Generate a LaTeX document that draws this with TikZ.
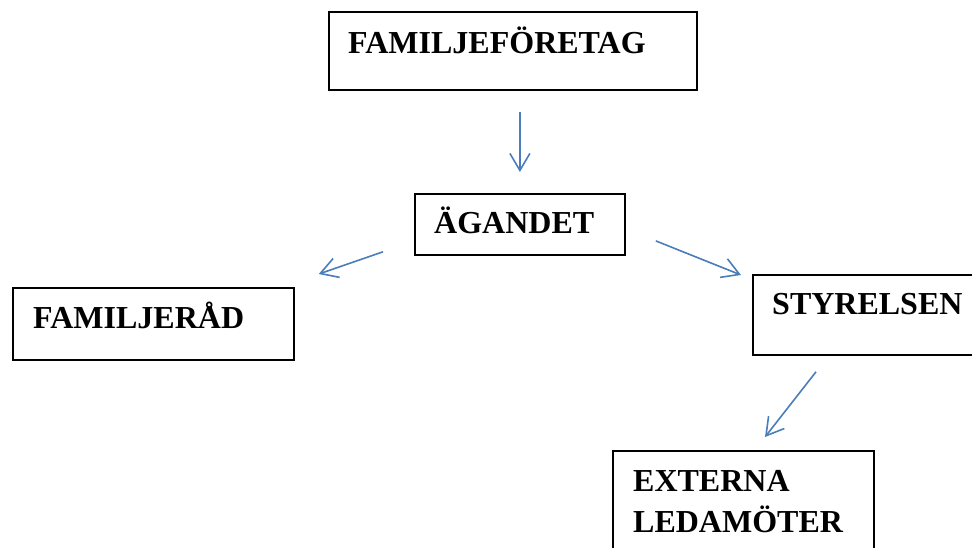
\documentclass[tikz,border=0pt]{standalone}
\usepackage{fontspec}
\setmainfont{Liberation Serif}
\usetikzlibrary{arrows.meta,calc}
\definecolor{arrcol}{RGB}{74,126,187}
\tikzset{
  box/.style={draw=black,line width=1.8pt,inner sep=0pt,anchor=north west},
  lbl/.style={inner sep=0pt,anchor=base west,font=\bfseries\fontsize{32}{41}\selectfont},
  arr/.style={draw=arrcol,line width=1.6pt,-{Straight Barb[length=17pt,width=20pt,line width=1.6pt]}}
}

\begin{document}
\begin{tikzpicture}[x=1pt,y=-1pt]
\useasboundingbox (0,0) rectangle (972,547);
% boxes: top left corner, width, height
\node[box,minimum width=368,minimum height=78] (foretag) at (328,11) {};
\node[box,minimum width=210,minimum height=61] (agandet) at (414,193) {};
\node[box,minimum width=281,minimum height=72] (familjerad) at (12,287) {};
\node[box,minimum width=240,minimum height=80] (styrelsen) at (752,274) {};
\node[box,minimum width=261,minimum height=120] (externa) at (612,450) {};
% texts (base of last line)
\node[lbl] (tforetag) at (348,53) {FAMILJEFÖRETAG};
\node[lbl] (tagandet) at (434,233) {ÄGANDET};
\node[lbl] (tfamiljerad) at (33,328) {FAMILJERÅD};
\node[lbl] (tstyrelsen) at (772,314) {STYRELSEN};
\node[lbl,align=left] (texterna) at (633,532) {EXTERNA\\LEDAMÖTER};
% arrows
\draw[arr,shorten <=21pt,shorten >=21pt] (agandet.north |- foretag.south) -- (agandet.north);
\draw[arr] ($(agandet.south west)+(-31,-4)$) -- ($(familjerad.north east)+(24,-13)$);
\draw[arr] ($(agandet.east)+(30,16.5)$) -- ($(styrelsen.north west)+(-11,1)$);
\draw[arr] ($(styrelsen.south west)+(64,16)$) -- ($(externa.north west)+(153,-13)$);
\end{tikzpicture}
\end{document}
